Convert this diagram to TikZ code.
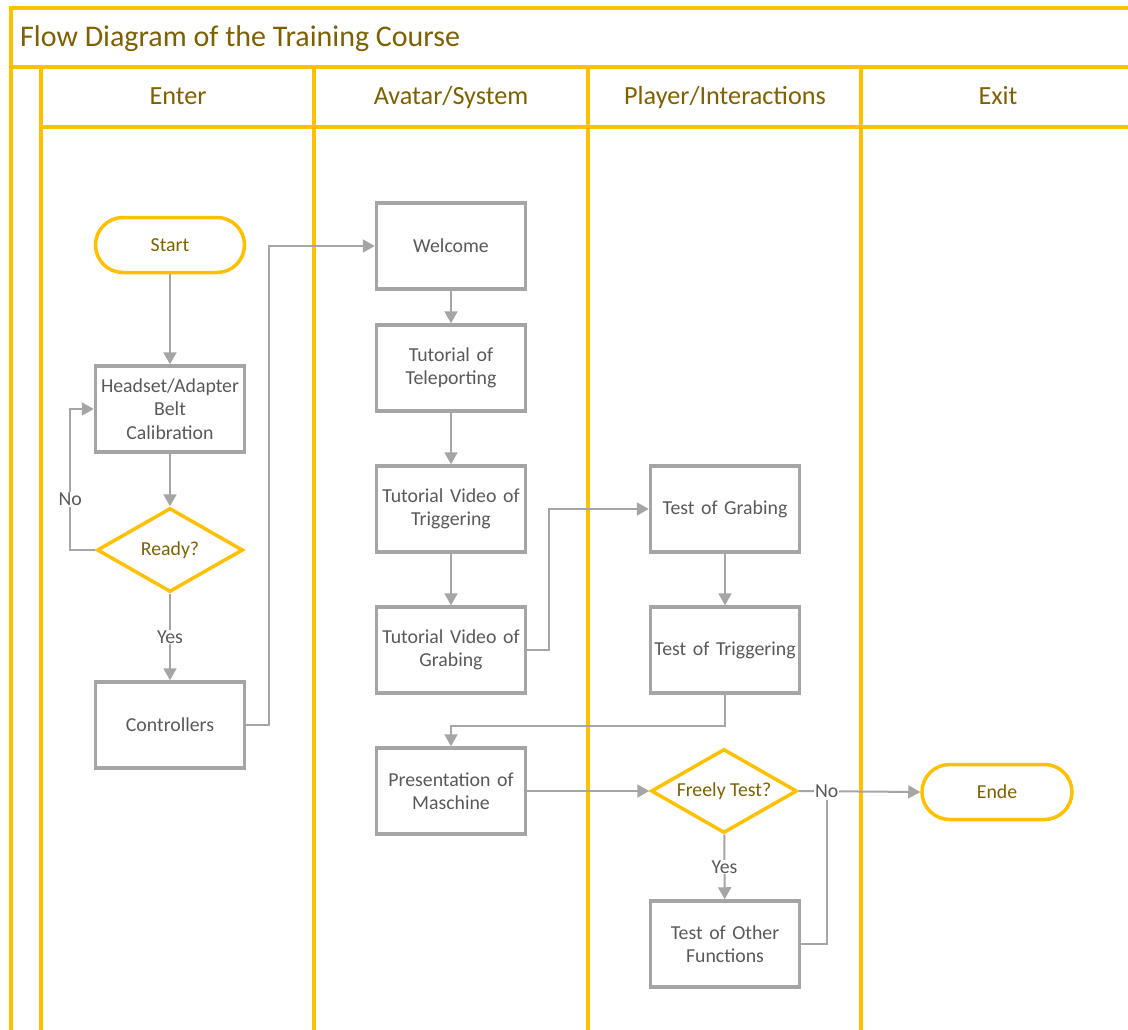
\documentclass[tikz,border=0pt]{standalone}
\usepackage{fontspec}
\setmainfont{Carlito}
\usetikzlibrary{shapes.geometric,arrows.meta}

\begin{document}
\begin{tikzpicture}[x=1pt,y=-1pt]
  % some colors
  \definecolor{lane}{HTML}{FFC000}
  \definecolor{heading}{HTML}{7F6000}
  \definecolor{boxline}{HTML}{A5A5A5}
  \definecolor{boxtext}{HTML}{595959}
  \colorlet{links}{boxline}
  % some styles
  \tikzset{
    lanes/.style={draw=lane,line width=4pt},
    box/.style={
      draw=boxline,
      line width=3.5pt,
      minimum width=149pt,
      minimum height=86pt,
      inner sep=0pt,
      text width=145pt,
      align=center,
      text=boxtext,
      font=\fontsize{19.8}{23.5}\selectfont,
    },
    term/.style={
      box,
      draw=lane,
      text=heading,
      minimum height=55pt,
      rounded corners=27.5pt,
    },
    decision/.style={
      diamond,
      aspect=1.74,
      draw=lane,
      line width=3.5pt,
      minimum width=146pt,
      minimum height=84pt,
      inner sep=0pt,
      text=heading,
      font=\fontsize{19.8}{23.5}\selectfont,
    },
    link/.style={-{Triangle[length=12pt,width=13pt]},links,line width=2pt},
    answer/.style={fill=white,text=boxtext,inner sep=1pt,font=\fontsize{19.8}{22}\selectfont},
  }
  \clip (0,0) rectangle (1128,1029);
  % swimlanes
  \draw[lanes] (11,1040) -- (11,8) -- (1140,8);
  \draw[lanes] (11,67) -- (1140,67);
  \draw[lanes] (41,127) -- (1140,127);
  \foreach \x in {41,314,588,861}
    \draw[lanes] (\x,67) -- (\x,1040);
  \node[anchor=base west,inner sep=0pt,text=heading,font=\fontsize{30}{34}\selectfont]
    (title) at (20,46) {Flow Diagram of the Training Course};
  \foreach \x/\name/\lane in {178/enter/Enter,451/avatar/{Avatar/System},
                              725/player/{Player/Interactions},998/exit/Exit}
    \node[anchor=base,inner sep=0pt,text=heading,font=\fontsize{26.2}{30}\selectfont]
      (lane-\name) at (\x,104) {\lane};

  % Enter
  \node[term] (start) at (170,245) {Start};
  \node[box] (headset) at (170,409) {Headset/Adapter\\Belt\\Calibration};
  \node[decision] (ready) at (170,550) {Ready?};
  \node[box] (controllers) at (170,725) {Controllers};
  % Avatar/System
  \node[box] (welcome) at (451,246) {Welcome};
  \node[box] (teleport) at (451,368) {Tutorial of\\Teleporting};
  \node[box] (vidtrigger) at (451,509) {Tutorial Video of\\Triggering};
  \node[box] (vidgrab) at (451,650) {Tutorial Video of\\Grabing};
  \node[box] (machine) at (451,791) {Presentation of\\Maschine};
  % Player/Interactions
  \node[box] (testgrab) at (725,509) {Test of Grabing};
  \node[box] (testtrigger) at (725,650) {Test of Triggering};
  \node[decision] (freely) at (724,791) {Freely Test?};
  \node[box] (others) at (725,944) {Test of Other\\Functions};
  % Exit
  \node[term,minimum width=150pt] (ende) at (997,792) {Ende};

  % connections
  \draw[link] (start) -- (headset);
  \draw[link] (headset) -- (ready);
  \draw[link] (ready.west) -- ++(-25,0) |- node[answer,pos=.18]{No} (headset.west);
  \draw[link] (ready) -- node[answer]{Yes} (controllers);
  \draw[link] (controllers.east) -- ++(23,0) |- (welcome.west);
  \draw[link] (welcome) -- (teleport);
  \draw[link] (teleport) -- (vidtrigger);
  \draw[link] (vidtrigger) -- (vidgrab);
  \draw[link] (vidgrab.east) -- ++(22,0) |- (testgrab.west);
  \draw[link] (testgrab) -- (testtrigger);
  \draw[link] (testtrigger.south) -- ++(0,31) -| (machine.north);
  \draw[link] (machine) -- (freely);
  \draw[link] (freely.east) -- node[answer,pos=.23] (no-exit) {No} (ende.west);
  \draw[link] (freely) -- node[answer]{Yes} (others);
  \draw[links,line width=2pt] (others.east) -| (no-exit.south);
\end{tikzpicture}
\end{document}
